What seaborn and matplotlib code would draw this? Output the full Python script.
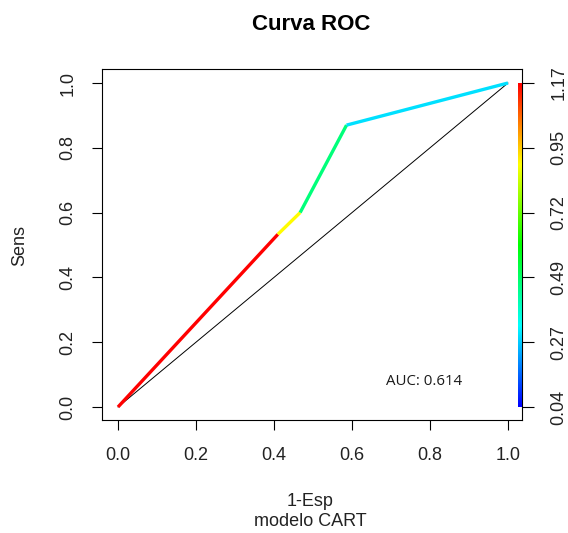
import numpy as np
import pandas as pd
import matplotlib
matplotlib.use("Agg")
import matplotlib.pyplot as plt
import seaborn as sns
from matplotlib.colors import LinearSegmentedColormap

# --- Data ---
FPR = [0.0, 0.41, 0.467, 0.586, 1.0]
TPR = [0.0, 0.533, 0.60, 0.87, 1.0]
CUTOFFS = [1.17, 0.89, 0.47, 0.29]          # cutoff coloring each segment
CB_TICKS = ["0.04", "0.27", "0.49", "0.72", "0.95", "1.17"]
CB_MIN, CB_MAX = 0.04, 1.17
AUC = 0.614
AXIS_TICKS = [0.0, 0.2, 0.4, 0.6, 0.8, 1.0]

sns.set_style("white")
plt.rcParams["font.family"] = ["Liberation Sans", "DejaVu Sans"]

# rainbow(start=0, end=4/6) as in ROCR colorize: blue (low) -> red (high)
cmap = LinearSegmentedColormap.from_list(
    "roc_rainbow", ["#0000FF", "#00FFFF", "#00FF00", "#FFFF00", "#FF0000"])

rows = []
for i, c in enumerate(CUTOFFS):
    for j in (i, i + 1):
        rows.append({"fpr": FPR[j], "tpr": TPR[j], "seg": i})
df = pd.DataFrame(rows)
pal = {i: cmap((c - CB_MIN) / (CB_MAX - CB_MIN)) for i, c in enumerate(CUTOFFS)}

fig = plt.figure(figsize=(5.68, 5.33), dpi=100)
ax = fig.add_axes([102 / 568, 1 - 420 / 533, 420 / 568, 351 / 533])

ax.plot([0, 1], [0, 1], color="black", lw=0.7, zorder=2)
sns.lineplot(data=df, x="fpr", y="tpr", hue="seg", units="seg", palette=pal,
             estimator=None, sort=False, legend=False, lw=2.4,
             solid_capstyle="butt", ax=ax, zorder=3)

xmin, xmax = -16 / 390, 1 + 14 / 390
ymin, ymax = -13 / 324, 1 + 14 / 324

# colour bar drawn inside the plot region
grad = np.linspace(0, 1, 256).reshape(-1, 1)
ax.imshow(grad, cmap=cmap, origin="lower", aspect="auto",
          extent=[1 + 10.5 / 390, xmax, 0, 1], zorder=4)
ax.set_xlim(xmin, xmax)
ax.set_ylim(ymin, ymax)

ax.set_xticks(AXIS_TICKS)
ax.set_xticklabels([f"{t:.1f}" for t in AXIS_TICKS])
ax.set_yticks(AXIS_TICKS)
ax.set_yticklabels([f"{t:.1f}" for t in AXIS_TICKS], rotation=90, va="center")
ax.tick_params(axis="both", direction="out", length=7.5, width=0.8,
               color="black", labelsize=13, labelcolor="#222222", left=True, bottom=True)
ax.tick_params(axis="x", pad=12)
ax.tick_params(axis="y", pad=11)
for s in ax.spines.values():
    s.set_color("black")
    s.set_linewidth(0.8)

ax2 = ax.twinx()
ax2.set_ylim(ymin, ymax)
ax2.set_yticks(np.linspace(0, 1, len(CB_TICKS)))
ax2.set_yticklabels(CB_TICKS, rotation=90, va="center")
ax2.tick_params(axis="y", direction="out", length=8.5, width=0.8, color="black",
                labelsize=13, labelcolor="#222222", pad=12, right=True)
for s in ax2.spines.values():
    s.set_visible(False)

ax.set_xlabel("")
ax.set_ylabel("")
fig.text(20 / 568, 1 - 245 / 533, "Sens", rotation=90, ha="center", va="center",
         fontsize=13, color="#222222")
fig.text(310 / 568, 1 - 502 / 533, "1-Esp", ha="center", va="center",
         fontsize=13, color="#222222")
fig.text(310 / 568, 1 - 522 / 533, "modelo CART", ha="center", va="center",
         fontsize=13, color="#222222")
fig.text(311 / 568, 1 - 25 / 533, "Curva ROC", ha="center", va="center",
         fontsize=16, fontweight="bold", color="black")
ax.text(0.785, 0.08, f"AUC: {AUC}", ha="center", va="center", fontsize=10.8,
        family=["Open Sans", "DejaVu Sans"], color="#1a1a1a")

fig.savefig("out.png", dpi=100)
